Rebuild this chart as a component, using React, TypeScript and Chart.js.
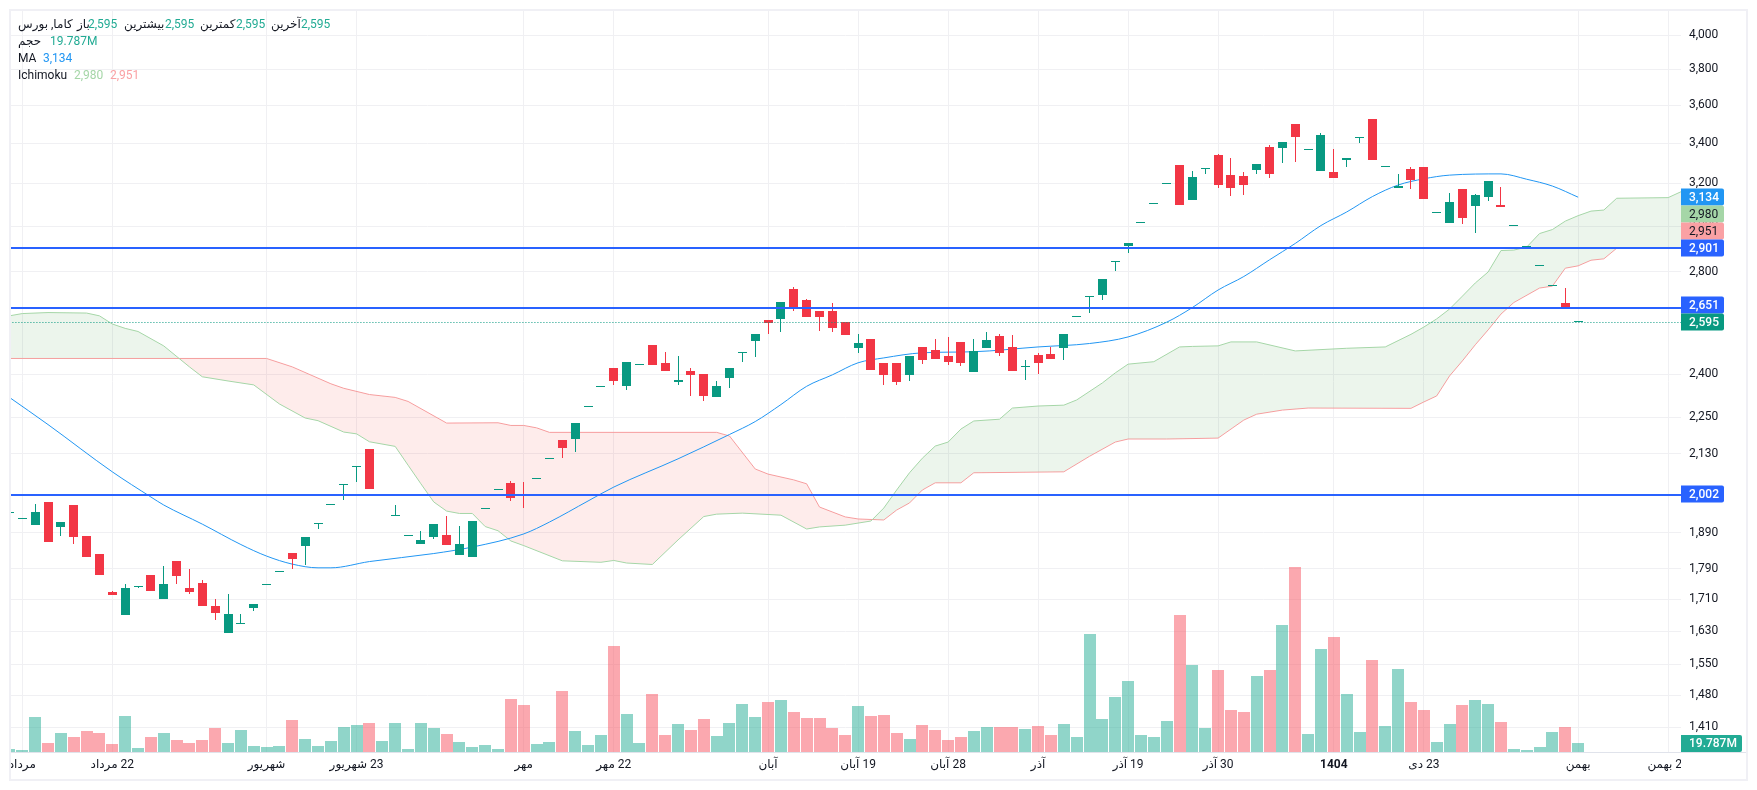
import React, { useEffect, useRef } from 'react'
import Chart from 'chart.js/auto'

// ============================================================================
// DATA
// ============================================================================

const opens = [
  1946, 1929, 1913, 1980, 1907, 1971, 1881, 1831, 1729, 1670, 1742, 1774, 1711, 1811, 1739, 1753, 1693, 1626, 1648, 1688,
  1747, 1781, 1833, 1853, 1915, 1970, 2030, 2086, 2144, 1997, 1938, 1880, 1859, 1878, 1884, 1828, 1822, 1958, 2015, 2038,
  2001, 2049, 2111, 2174, 2177, 2283, 2354, 2423, 2358, 2433, 2509, 2441, 2373, 2412, 2402, 2319, 2387, 2477, 2524, 2605,
  2609, 2729, 2684, 2640, 2640, 2597, 2498, 2532, 2441, 2441, 2398, 2501, 2490, 2467, 2520, 2409, 2498, 2543, 2501, 2427,
  2471, 2475, 2498, 2615, 2695, 2705, 2841, 2912, 3013, 3101, 3196, 3290, 3121, 3270, 3340, 3240, 3236, 3265, 3380, 3375,
  3500, 3364, 3260, 3255, 3315, 3425, 3526, 3279, 3178, 3270, 3280, 3059, 3015, 3173, 3093, 3135, 3097, 3000, 2907, 2824,
  2741, 2672, 2595,
]
const closes = [
  1946, 1929, 1950, 1864, 1921, 1878, 1822, 1774, 1721, 1739, 1745, 1731, 1750, 1771, 1729, 1693, 1675, 1673, 1648, 1698,
  1747, 1781, 1817, 1878, 1915, 1970, 2030, 2086, 2019, 1997, 1938, 1880, 1870, 1915, 1856, 1859, 1924, 1958, 2015, 1992,
  1998, 2049, 2111, 2147, 2230, 2283, 2354, 2376, 2445, 2433, 2434, 2412, 2380, 2398, 2323, 2358, 2423, 2477, 2551, 2594,
  2676, 2648, 2617, 2617, 2574, 2547, 2516, 2416, 2398, 2373, 2467, 2452, 2456, 2445, 2441, 2486, 2528, 2479, 2412, 2430,
  2441, 2456, 2551, 2615, 2695, 2771, 2841, 2925, 3013, 3101, 3196, 3097, 3231, 3275, 3192, 3178, 3192, 3295, 3245, 3406,
  3432, 3364, 3442, 3226, 3325, 3425, 3315, 3279, 3187, 3216, 3126, 3059, 3112, 3037, 3145, 3211, 3088, 3000, 2912, 2824,
  2741, 2648, 2595,
]
const highs = [
  1946, 1929, 1974, 1980, 1921, 1971, 1881, 1831, 1731, 1750, 1745, 1774, 1798, 1811, 1790, 1761, 1711, 1724, 1673, 1698,
  1747, 1781, 1833, 1878, 1915, 1970, 2030, 2086, 2144, 1997, 1971, 1880, 1895, 1915, 1938, 1910, 1924, 1958, 2015, 2044,
  2041, 2049, 2111, 2174, 2230, 2283, 2354, 2423, 2445, 2433, 2509, 2482, 2467, 2423, 2402, 2376, 2423, 2477, 2551, 2605,
  2676, 2737, 2688, 2640, 2672, 2597, 2551, 2532, 2441, 2441, 2467, 2501, 2532, 2539, 2520, 2532, 2558, 2551, 2547, 2452,
  2479, 2501, 2551, 2615, 2695, 2771, 2841, 2925, 3013, 3101, 3196, 3290, 3260, 3275, 3345, 3325, 3255, 3295, 3390, 3406,
  3500, 3364, 3452, 3370, 3325, 3425, 3526, 3279, 3245, 3280, 3280, 3059, 3154, 3173, 3150, 3211, 3183, 3000, 2912, 2824,
  2741, 2733, 2595,
]
const lows = [
  1946, 1929, 1913, 1864, 1881, 1859, 1822, 1774, 1721, 1670, 1739, 1731, 1711, 1750, 1724, 1693, 1658, 1626, 1648, 1680,
  1747, 1781, 1790, 1800, 1901, 1970, 1986, 2041, 2019, 1997, 1938, 1880, 1859, 1873, 1856, 1828, 1822, 1958, 2015, 1983,
  1962, 2049, 2111, 2115, 2135, 2283, 2354, 2362, 2344, 2433, 2434, 2412, 2362, 2323, 2305, 2319, 2351, 2445, 2463, 2551,
  2558, 2640, 2617, 2562, 2558, 2547, 2479, 2416, 2362, 2362, 2376, 2437, 2456, 2434, 2430, 2409, 2498, 2467, 2412, 2380,
  2402, 2456, 2452, 2615, 2632, 2684, 2804, 2881, 3013, 3101, 3196, 3097, 3121, 3245, 3178, 3140, 3145, 3245, 3226, 3300,
  3305, 3364, 3260, 3226, 3280, 3402, 3315, 3279, 3178, 3173, 3126, 3059, 3015, 3010, 2970, 3116, 3088, 3000, 2907, 2824,
  2741, 2648, 2595,
]

// volume in millions
const volumes = [
  6.6, 4.4, 77, 19.8, 41.8, 33, 46.2, 41.8, 17.6, 79.2,
  8.8, 33, 41.8, 26.4, 19.8, 26.4, 52.8, 19.8, 48.4, 13.2,
  11, 13.2, 70.4, 28.6, 13.2, 24.2, 55, 59.4, 63.8, 24.2,
  63.8, 6.6, 63.8, 52.8, 39.6, 22, 11, 15.4, 6.6, 116.6,
  103.4, 17.6, 22, 134.2, 46.2, 15.4, 37.4, 233.2, 83.6, 19.8,
  127.6, 37.4, 61.6, 48.4, 72.6, 35.2, 63.8, 105.6, 77, 110,
  114.4, 88, 74.8, 74.8, 52.8, 37.4, 101.2, 79.2, 81.4, 41.8,
  28.6, 59.4, 48.4, 26.4, 33, 46.2, 55, 55, 55, 50.6,
  57.2, 37.4, 61.6, 33, 259.6, 72.6, 121, 156.2, 37.4, 33,
  68.2, 301.4, 191.4, 52.8, 180.4, 92.4, 88, 167.2, 180.4, 279.4,
  407, 39.6, 226.6, 253, 127.6, 44, 202.4, 57.2, 182.6, 110,
  92.4, 22, 61.6, 103.4, 114.4, 105.6, 66, 6.6, 4.4, 11, 44, 55, 19.787,
]

const maBars = [
  0, 3, 8, 11, 12, 15, 18, 20, 22, 24, 25, 28, 33, 36, 40, 42, 45, 47, 52, 56, 58, 60, 62, 64, 66, 68, 71, 75, 80, 84, 87,
  90, 92, 94, 96, 98, 100, 102, 104, 106, 108, 110, 112, 116, 118, 120, 122,
]
const maValues = [
  2318, 2225, 2072, 1995, 1971, 1915, 1857, 1825, 1803, 1793, 1793, 1810, 1832, 1850, 1887, 1921, 1983, 2025, 2113, 2192,
  2235, 2293, 2357, 2398, 2442, 2460, 2479, 2483, 2501, 2514, 2539, 2596, 2654, 2725, 2781, 2852, 2923, 3003, 3065, 3137,
  3192, 3222, 3240, 3246, 3220, 3187, 3134,
]

const spanABars = [
  0, 1, 3, 6, 7, 8, 9, 10, 12, 14, 15, 17, 19, 21, 23, 24, 26, 27, 28, 30, 31, 32, 33, 34, 35, 36, 37, 38, 39, 40, 43, 46,
  47, 48, 50, 52, 54, 55, 57, 60, 62, 63, 65, 67, 68, 69, 70, 71, 72, 73, 74, 75, 77, 78, 80, 82, 83, 85, 86, 87, 89, 91,
  92, 94, 95, 97, 100, 104, 107, 109, 110, 111, 112, 113, 114, 115, 116, 117, 118, 119, 120, 121, 122, 123, 124, 125, 129, 130,
]
const spanAValues = [
  2621, 2630, 2634, 2632, 2621, 2589, 2572, 2560, 2505, 2427, 2391, 2376, 2362, 2295, 2247, 2238, 2200, 2194, 2168, 2153,
  2093, 2035, 1980, 1953, 1946, 1946, 1908, 1896, 1867, 1854, 1812, 1808, 1813, 1806, 1802, 1870, 1937, 1944, 1947, 1941,
  1901, 1907, 1912, 1924, 1962, 2016, 2069, 2115, 2154, 2167, 2210, 2237, 2243, 2281, 2288, 2291, 2309, 2369, 2405, 2437,
  2446, 2501, 2503, 2505, 2520, 2520, 2486, 2496, 2501, 2549, 2577, 2609, 2648, 2700, 2754, 2800, 2892, 2894, 2907, 2967,
  2985, 3023, 3048, 3069, 3074, 3129, 3132, 3160,
]

const spanBBars = [
  0, 20, 22, 25, 26, 28, 30, 31, 34, 38, 39, 40, 41, 42, 55, 56, 58, 59, 61, 62, 63, 65, 66, 68, 69, 70, 71, 72, 74, 75, 82,
  84, 86, 87, 90, 94, 96, 97, 99, 101, 109, 110, 111, 112, 113, 114, 115, 116, 117, 119, 120, 121, 122, 123, 124, 125, 130,
]
const spanBValues = [
  2458, 2458, 2427, 2366, 2350, 2328, 2318, 2304, 2230, 2231, 2222, 2222, 2214, 2199, 2199, 2187, 2081, 2065, 2047, 2035,
  1965, 1936, 1930, 1927, 1956, 1977, 2016, 2038, 2038, 2069, 2072, 2121, 2167, 2177, 2177, 2180, 2240, 2260, 2274, 2281,
  2280, 2302, 2323, 2394, 2449, 2509, 2566, 2628, 2674, 2733, 2741, 2816, 2826, 2850, 2856, 2902, 2903,
]

const priceLevels = [2901, 2651, 2002]
const lastPrice = 2595

const priceTicks = [4000, 3800, 3600, 3400, 3200, 3000, 2800, 2400, 2250, 2130, 1890, 1790, 1710, 1630, 1550, 1480, 1410]

const timeBars = [1, 8, 20, 27, 40, 47, 59, 66, 73, 80, 87, 94, 103, 110, 122, 129]
const timeLabels = [
  'مرداد', '\u200F22 مرداد', 'شهریور', '\u200F23 شهریور', 'مهر', '\u200F22 مهر', 'آبان', '\u200F19 آبان',
  '\u200F28 آبان', 'آذر', '\u200F19 آذر', '\u200F30 آذر', '1404', '\u200F23 دی', 'بهمن', '\u200F22 بهمن',
]

// ============================================================================
// STYLE
// ============================================================================

const FONT = 'Roboto, "DejaVu Sans", sans-serif'
const TEXT = '#131722'
const TEAL = '#089981'
const RED = '#F23645'
const GRID = '#F0F0F3'
const BLUE = '#2962FF'

const pairUp = (bars: number[], vals: number[]) => bars.map((x, i) => ({ x, y: vals[i] }))

// price axis tags, boxes are stacked so they do not overlap
const priceTags = [
  { text: '3,134', mid: 197, bg: '#2196F3', fg: '#FFFFFF' },
  { text: '2,980', mid: 214, bg: '#A5D6A7', fg: TEXT },
  { text: '2,951', mid: 231, bg: '#FAA1A4', fg: TEXT },
  { text: '2,901', mid: 248, bg: BLUE, fg: '#FFFFFF' },
  { text: '2,651', mid: 305, bg: BLUE, fg: '#FFFFFF' },
  { text: '2,595', mid: 322, bg: TEAL, fg: '#FFFFFF' },
  { text: '2,002', mid: 494, bg: BLUE, fg: '#FFFFFF' },
  { text: '19.787M', mid: 743.5, bg: '#22AB94', fg: '#FFFFFF' },
]

// ============================================================================
// PLUGINS
// ============================================================================

// snap bars and horizontal lines to whole pixels, the reference is crisp
const snapPlugin = {
  id: 'snap',
  afterDatasetsUpdate(chart: any) {
    chart.data.datasets.forEach((ds: any, idx: number) => {
      const meta = chart.getDatasetMeta(idx)
      if (ds.snap === 'body') {
        meta.data.forEach((el: any) => {
          el.x = Math.floor(el.x) + 0.5
          el.y = Math.round(el.y)
          el.base = Math.round(el.base)
        })
      } else if (ds.snap === 'volume') {
        meta.data.forEach((el: any) => {
          el.x = Math.round(el.x)
          el.y = Math.round(el.y)
          el.base = Math.round(el.base)
        })
      } else if (ds.snap === 'level') {
        meta.data.forEach((el: any) => {
          el.y = Math.round(el.y)
        })
      } else if (ds.snap === 'dotted') {
        meta.data.forEach((el: any) => {
          el.y = Math.floor(el.y) + 0.5
        })
      }
    })
  },
}

const framePlugin = {
  id: 'frame',
  afterDraw(chart: any) {
    const { ctx, chartArea } = chart
    ctx.save()

    // last time label is cut by the price axis
    ctx.fillStyle = '#FFFFFF'
    ctx.fillRect(chartArea.right, chartArea.bottom + 1, 64, 26)

    // time axis line
    ctx.strokeStyle = '#E0E3EB'
    ctx.lineWidth = 1
    ctx.beginPath()
    ctx.moveTo(chartArea.left, chartArea.bottom + 0.5)
    ctx.lineTo(1747, chartArea.bottom + 0.5)
    ctx.stroke()

    // outer frame
    ctx.strokeStyle = '#F0F0F5'
    ctx.lineWidth = 2
    ctx.strokeRect(10, 10, 1737, 770)

    // price tags
    ctx.textBaseline = 'middle'
    ctx.textAlign = 'left'
    priceTags.forEach((tag) => {
      const w = tag.text.length > 5 ? 61 : 43
      ctx.fillStyle = tag.bg
      ctx.beginPath()
      ctx.roundRect(chartArea.right, tag.mid - 8.5, w, 17, [0, 2, 2, 0])
      ctx.fill()
      ctx.font = `${tag.fg === TEXT ? 400 : 500} 12px ${FONT}`
      ctx.fillStyle = tag.fg
      ctx.fillText(tag.text, chartArea.right + 8, tag.mid + 0.5)
    })
    ctx.restore()
  },
}

// ============================================================================
// LEGEND
// ============================================================================

const GREEN_NUM = '#22AB94'

const Txt: React.FC<{ left: number; top: number; color?: string; children: React.ReactNode }> = ({
  left,
  top,
  color = TEXT,
  children,
}) => (
  <span style={{ position: 'absolute', left, top, color, whiteSpace: 'nowrap', lineHeight: '17px' }}>{children}</span>
)

const Legend: React.FC = () => (
  <div style={{ position: 'absolute', left: 0, top: 0, font: `12px ${FONT}`, pointerEvents: 'none' }}>
    <Txt left={18} top={16}><bdi dir="rtl">کاما, بورس</bdi></Txt>
    <Txt left={77} top={16}>باز</Txt>
    <Txt left={88} top={16} color={GREEN_NUM}>2,595</Txt>
    <Txt left={124} top={16}>بیشترین</Txt>
    <Txt left={165} top={16} color={GREEN_NUM}>2,595</Txt>
    <Txt left={200} top={16}>کمترین</Txt>
    <Txt left={236} top={16} color={GREEN_NUM}>2,595</Txt>
    <Txt left={271} top={16}>آخرین</Txt>
    <Txt left={301} top={16} color={GREEN_NUM}>2,595</Txt>

    <Txt left={18} top={33}>حجم</Txt>
    <Txt left={50} top={33} color={GREEN_NUM}>19.787M</Txt>

    <Txt left={18} top={50}>MA</Txt>
    <Txt left={43} top={50} color="#2196F3">3,134</Txt>

    <Txt left={18} top={67}>Ichimoku</Txt>
    <Txt left={74} top={67} color="#A5D6A7">2,980</Txt>
    <Txt left={110} top={67} color="#FAA1A4">2,951</Txt>
  </div>
)

// ============================================================================
// MAIN COMPONENT
// ============================================================================

export default function App() {
  const canvasRef = useRef<HTMLCanvasElement>(null)

  useEffect(() => {
    if (!canvasRef.current) return

    const candleColors = closes.map((c, i) => (c >= opens[i] ? TEAL : RED))
    const volumeColors = closes.map((c, i) => (c >= opens[i] ? 'rgba(34,171,148,0.5)' : 'rgba(247,82,95,0.5)'))
    const bars = closes.map((_, i) => i)

    const levelLine = (value: number) => ({
      type: 'line' as const,
      snap: 'level',
      data: [
        { x: 0, y: value },
        { x: 131, y: value },
      ],
      yAxisID: 'y',
      borderColor: BLUE,
      borderWidth: 2,
      pointRadius: 0,
      order: 0,
    })

    const chart = new Chart(canvasRef.current, {
      type: 'bar',
      data: {
        datasets: [
          // 0: Ichimoku span A, filled towards span B
          {
            type: 'line',
            data: pairUp(spanABars, spanAValues),
            yAxisID: 'y',
            borderColor: '#A5D6A7',
            borderWidth: 1,
            pointRadius: 0,
            fill: { target: 1, above: 'rgba(67,160,71,0.1)', below: 'rgba(244,67,54,0.1)' },
            order: 5,
          },
          // 1: Ichimoku span B
          {
            type: 'line',
            data: pairUp(spanBBars, spanBValues),
            yAxisID: 'y',
            borderColor: '#FAA1A4',
            borderWidth: 1,
            pointRadius: 0,
            fill: false,
            order: 5,
          },
          // volume
          {
            type: 'bar',
            snap: 'volume',
            data: bars.map((i) => ({ x: i, y: volumes[i] })),
            yAxisID: 'vol',
            backgroundColor: volumeColors,
            barThickness: 12,
            grouped: false,
            inflateAmount: 0,
            order: 6,
          },
          // moving average
          {
            type: 'line',
            data: pairUp(maBars, maValues),
            yAxisID: 'y',
            borderColor: '#2196F3',
            borderWidth: 1,
            pointRadius: 0,
            cubicInterpolationMode: 'monotone',
            order: 4,
          },
          // wicks
          {
            type: 'bar',
            snap: 'body',
            data: bars.map((i) => ({ x: i, y: [lows[i], highs[i]] })),
            yAxisID: 'y',
            backgroundColor: candleColors,
            barThickness: 1,
            grouped: false,
            inflateAmount: 0,
            order: 3,
          },
          // bodies
          {
            type: 'bar',
            snap: 'body',
            data: bars.map((i) => ({ x: i, y: [opens[i], closes[i]] })),
            yAxisID: 'y',
            backgroundColor: candleColors,
            barThickness: 9,
            minBarLength: 1,
            grouped: false,
            inflateAmount: 0,
            order: 2,
          },
          // last price
          {
            type: 'line',
            snap: 'dotted',
            data: [
              { x: 0, y: lastPrice },
              { x: 131, y: lastPrice },
            ],
            yAxisID: 'y',
            borderColor: TEAL,
            borderWidth: 1,
            borderDash: [1, 2],
            pointRadius: 0,
            order: 1,
          },
          ...priceLevels.map(levelLine),
        ] as any,
      },
      options: {
        responsive: false,
        devicePixelRatio: 1,
        animation: false,
        events: [],
        layout: { padding: { left: 10, right: 10, top: 11, bottom: 11 } },
        plugins: { legend: { display: false }, tooltip: { enabled: false } },
        scales: {
          x: {
            type: 'linear',
            offset: false,
            min: 0.044,
            max: 130,
            afterBuildTicks: (scale: any) => {
              scale.ticks = timeBars.map((value) => ({ value }))
            },
            afterFit: (scale: any) => {
              scale.height = 27
              scale.paddingLeft = 0
              scale.paddingRight = 0
            },
            ticks: {
              autoSkip: false,
              maxRotation: 0,
              padding: 6,
              color: TEXT,
              font: (ctx: any) => ({
                family: FONT,
                size: 12,
                weight: ctx.tick && ctx.tick.value === 103 ? 'bold' : 'normal',
              }),
              callback: (value: any) => timeLabels[timeBars.indexOf(value)] ?? '',
            },
            grid: { color: GRID, drawTicks: false, offset: false },
            border: { display: false },
          },
          y: {
            type: 'logarithmic',
            position: 'right',
            min: 1358.5,
            max: 4149,
            afterBuildTicks: (scale: any) => {
              scale.ticks = priceTicks.map((value) => ({ value }))
            },
            afterFit: (scale: any) => {
              scale.width = 66
              scale.paddingTop = 0
              scale.paddingBottom = 0
            },
            ticks: {
              autoSkip: false,
              padding: 8,
              crossAlign: 'near',
              color: TEXT,
              font: { family: FONT, size: 12 },
              callback: (value: any) => Number(value).toLocaleString('en-US'),
            },
            grid: { color: GRID, drawTicks: false },
            border: { display: false },
          },
          vol: {
            type: 'linear',
            display: false,
            position: 'left',
            min: 0,
            max: 1630,
          },
        },
      },
      plugins: [snapPlugin, framePlugin],
    })

    return () => {
      chart.destroy()
    }
  }, [])

  return (
    <div style={{ position: 'absolute', left: 0, top: 0, width: 1757, height: 790, background: '#FFFFFF' }}>
      <canvas ref={canvasRef} width={1757} height={790} style={{ display: 'block' }} />
      <Legend />
    </div>
  )
}
